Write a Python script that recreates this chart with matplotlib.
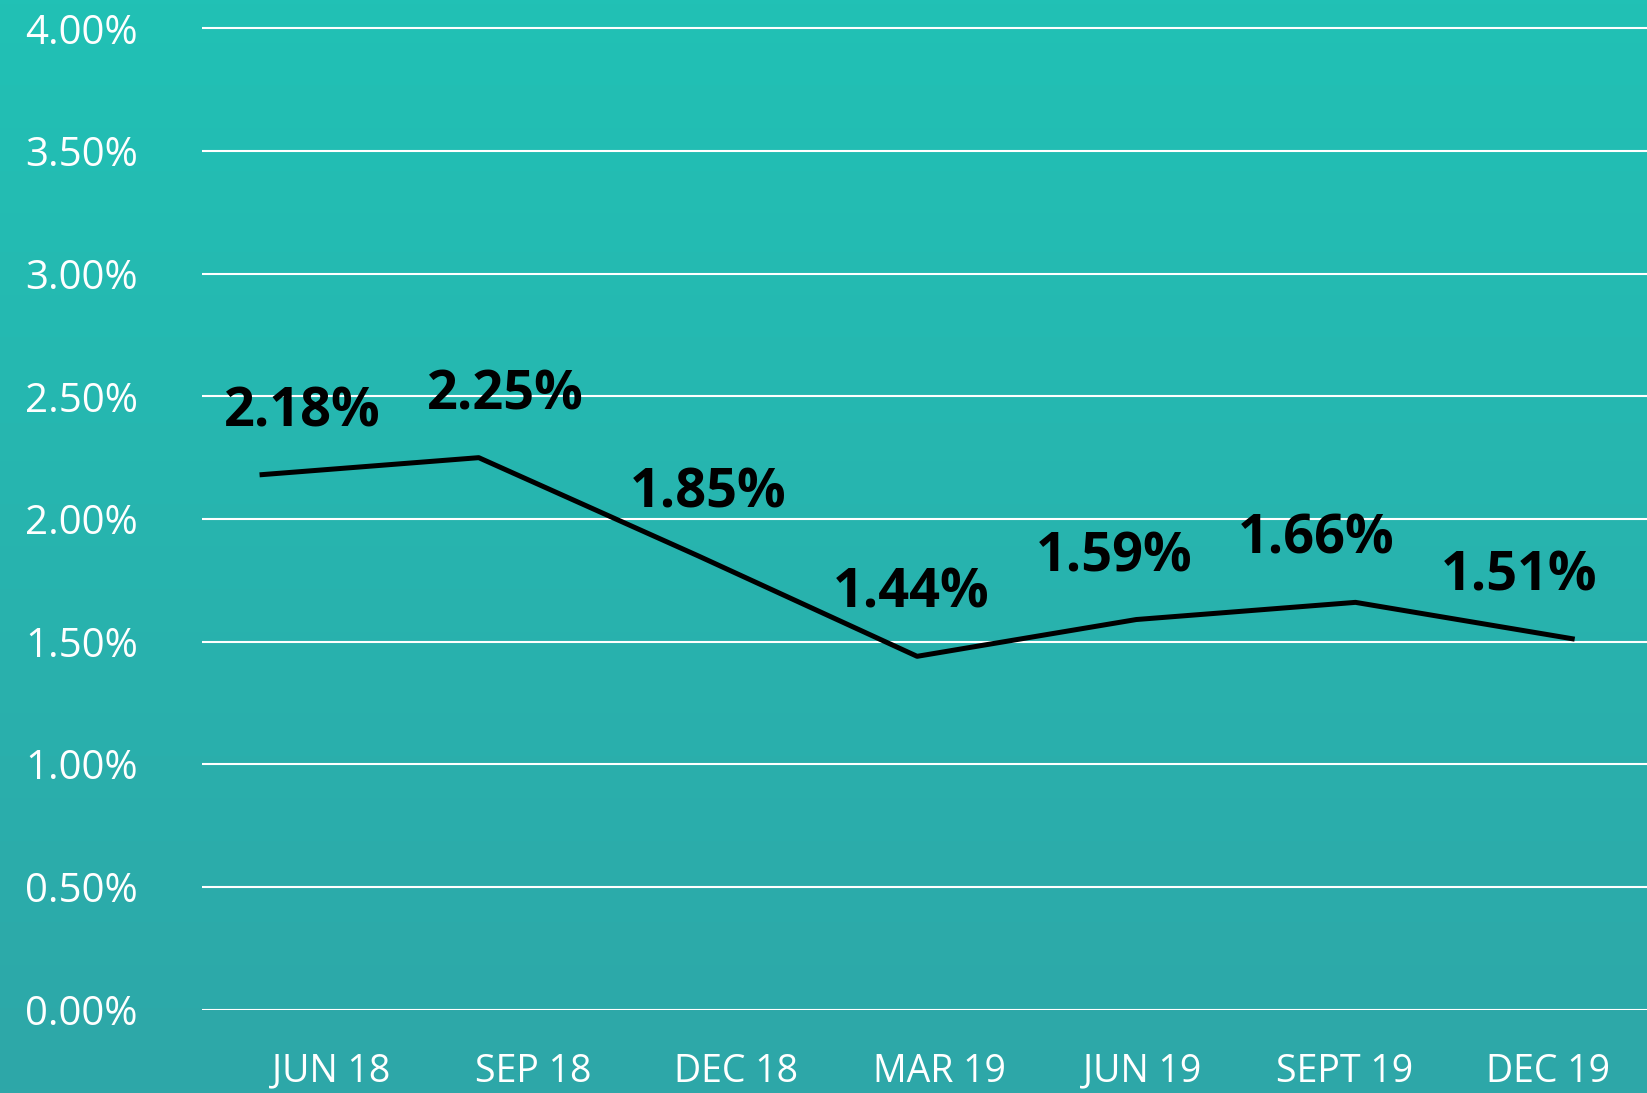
import numpy as np
import matplotlib
matplotlib.use("Agg")
import matplotlib.pyplot as plt
from matplotlib.colors import LinearSegmentedColormap

periods = ['JUN 18', 'SEP 18', 'DEC 18', 'MAR 19', 'JUN 19', 'SEPT 19', 'DEC 19']
rates = [2.18, 2.25, 1.85, 1.44, 1.59, 1.66, 1.51]
yticks = [0.0, 0.5, 1.0, 1.5, 2.0, 2.5, 3.0, 3.5, 4.0]

plt.rcParams['font.family'] = ['Open Sans', 'DejaVu Sans']

W, H = 1647, 1093
fig = plt.figure(figsize=(W / 100, H / 100), dpi=100)

# gradient background
bg = fig.add_axes([0, 0, 1, 1], zorder=0)
cmap = LinearSegmentedColormap.from_list('bg', ['#21c1b5', '#2ea7a8'])
grad = np.linspace(0, 1, 256).reshape(-1, 1)
bg.imshow(grad, aspect='auto', cmap=cmap, extent=[0, 1, 0, 1], origin='upper')
bg.axis('off')

left = 201.7 / W
bottom = (H - 1009.5) / H
ax = fig.add_axes([left, bottom, 1 - left, 1 - bottom], zorder=1)
ax.patch.set_alpha(0)

x = np.arange(len(rates))
ax.plot(x, rates, color='black', lw=3.6, solid_capstyle='butt', zorder=3)
ax.set_xlim(-0.264, 6.33)
ax.set_ylim(0, 4.116)
ax.set_yticks(yticks)
ax.set_yticklabels(['%.2f%%' % v for v in yticks])
ax.grid(axis='y', color='white', lw=1.5)
ax.set_axisbelow(True)
for s in ax.spines.values():
    s.set_visible(False)
ax.tick_params(axis='y', length=0, pad=127, labelsize=29, labelcolor='white')
for t in ax.get_yticklabels():
    t.set_ha('left')
ax.set_xticks([])

# category labels and data labels sit on their own grid
ax2 = ax.twiny()
ax2.set_xlim(-0.637, 6.49)
ax2.set_ylim(ax.get_ylim())
ax2.set_xticks(x)
ax2.set_xticklabels(periods)
ax2.xaxis.set_ticks_position('bottom')
ax2.tick_params(axis='x', length=0, pad=31, labelsize=27, labelcolor='white')
for s in ax2.spines.values():
    s.set_visible(False)
ax2.patch.set_alpha(0)

for i, v in enumerate(rates):
    ax2.annotate('%.2f%%' % v, (i - 0.14, v), xytext=(0, 45), textcoords='offset points',
                 ha='center', va='center', fontsize=39, fontweight='bold', color='black')

fig.savefig('out.png', dpi=100)
